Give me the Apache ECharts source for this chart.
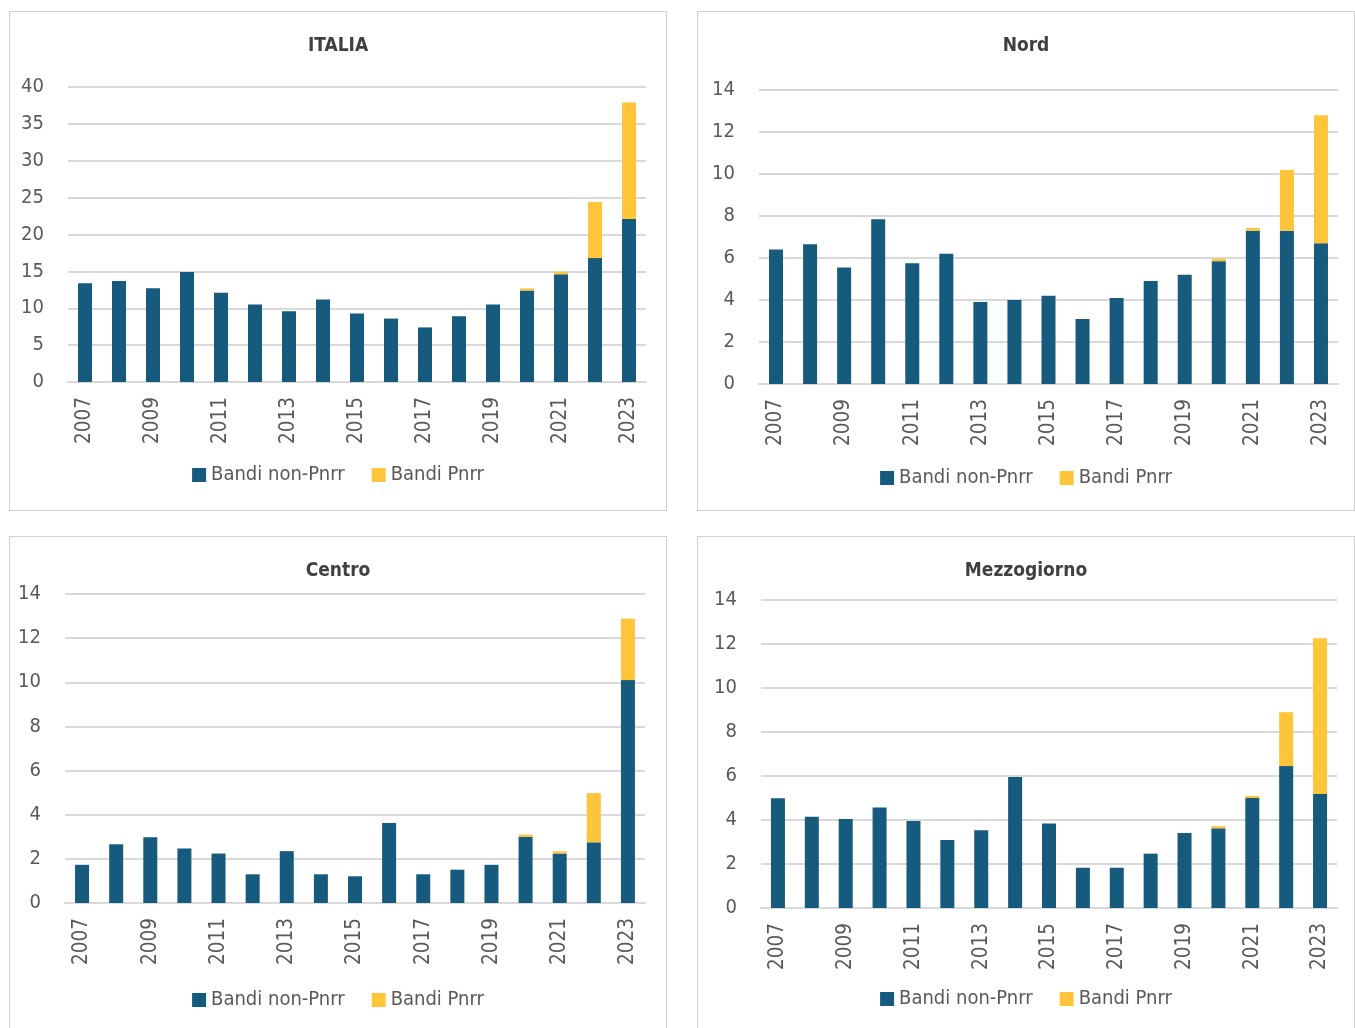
<!DOCTYPE html>
<html>
<head>
<meta charset="utf-8">
<script src="https://cdn.jsdelivr.net/npm/echarts@6/dist/echarts.min.js"></script>
<style>
  html, body { margin: 0; padding: 0; background: #ffffff; }
  body { width: 1355px; height: 1028px; position: relative; overflow: hidden; }
  .panel { position: absolute; box-sizing: border-box; border: 1px solid #d0d0d0; background: #fff; }
</style>
</head>
<body>
<div class="panel" id="p1" style="left:9px;top:11px;width:658px;height:500px;"></div>
<div class="panel" id="p2" style="left:697px;top:11px;width:658px;height:500px;"></div>
<div class="panel" id="p3" style="left:9px;top:536px;width:658px;height:500px;"></div>
<div class="panel" id="p4" style="left:697px;top:536px;width:658px;height:500px;"></div>
<script>
// Years on the category axis
const years = ['2007','2008','2009','2010','2011','2012','2013','2014','2015',
               '2016','2017','2018','2019','2020','2021','2022','2023'];

// ITALIA
const italiaNonPnrr = [13.4, 13.7, 12.7, 14.9, 12.1, 10.5, 9.6, 11.2, 9.3, 8.6, 7.4, 8.9, 10.5, 12.4, 14.6, 16.8, 22.1];
const italiaPnrr    = [0, 0, 0, 0, 0, 0, 0, 0, 0, 0, 0, 0, 0, 0.3, 0.35, 7.6, 15.8];

// Nord
const nordNonPnrr = [6.4, 6.65, 5.55, 7.85, 5.75, 6.2, 3.9, 4.0, 4.2, 3.1, 4.1, 4.9, 5.2, 5.85, 7.3, 7.3, 6.7];
const nordPnrr    = [0, 0, 0, 0, 0, 0, 0, 0, 0, 0, 0, 0, 0, 0.12, 0.13, 2.9, 6.1];

// Centro
const centroNonPnrr = [1.73, 2.66, 2.98, 2.47, 2.24, 1.3, 2.35, 1.3, 1.21, 3.62, 1.3, 1.51, 1.73, 3.0, 2.24, 2.75, 10.1];
const centroPnrr    = [0, 0, 0, 0, 0, 0, 0, 0, 0, 0, 0, 0, 0, 0.1, 0.1, 2.23, 2.78];

// Mezzogiorno
const mezzNonPnrr = [4.99, 4.15, 4.04, 4.57, 3.95, 3.09, 3.53, 5.95, 3.84, 1.83, 1.83, 2.47, 3.41, 3.62, 5.0, 6.45, 5.18];
const mezzPnrr    = [0, 0, 0, 0, 0, 0, 0, 0, 0, 0, 0, 0, 0, 0.1, 0.09, 2.45, 7.08];

// Series names shown in the legends
const seriesNames = ['Bandi non-Pnrr', 'Bandi Pnrr'];

const FONT = "'Liberation Sans Narrow', 'DejaVu Sans Condensed', 'Roboto', sans-serif";
const BLUE = '#165a7d';
const YELLOW = '#fec53a';
const TEXT = '#595959';

function buildPanel(id, title, nonPnrr, pnrr, yMax, yStep, grid, titleTop, legendTop) {
  const chart = echarts.init(document.getElementById(id), null, { renderer: 'canvas' });
  chart.setOption({
    animation: false,
    textStyle: { fontFamily: FONT },
    title: {
      text: title,
      left: 'center',
      top: titleTop,
      textStyle: { fontFamily: FONT, fontSize: 19, fontWeight: 'bold', color: '#404040' }
    },
    legend: {
      data: seriesNames,
      left: 'center',
      top: legendTop,
      itemWidth: 14,
      itemHeight: 14,
      itemGap: 27,
      icon: 'rect',
      textStyle: { fontFamily: FONT, fontSize: 20, color: TEXT }
    },
    grid: grid,
    xAxis: {
      type: 'category',
      data: years,
      axisLine: { show: true, lineStyle: { color: '#d9d9d9', width: 2 } },
      axisTick: { show: false },
      axisLabel: {
        interval: 1,
        rotate: 90,
        margin: 15,
        fontFamily: FONT,
        fontSize: 20.5,
        color: TEXT
      }
    },
    yAxis: {
      type: 'value',
      min: 0,
      max: yMax,
      interval: yStep,
      axisLine: { show: false },
      axisTick: { show: false },
      splitLine: { lineStyle: { color: '#d9d9d9', width: 2 } },
      axisLabel: { margin: 24, fontFamily: FONT, fontSize: 20, color: TEXT }
    },
    series: [
      {
        name: seriesNames[0],
        type: 'bar',
        stack: 'tot',
        barWidth: 14,
        itemStyle: { color: BLUE },
        data: nonPnrr
      },
      {
        name: seriesNames[1],
        type: 'bar',
        stack: 'tot',
        barWidth: 14,
        itemStyle: { color: YELLOW },
        data: pnrr
      }
    ]
  });
}

buildPanel('p1', 'ITALIA', italiaNonPnrr, italiaPnrr, 40, 5,
  { left: 58, top: 75, width: 578, height: 295 }, 20, 448);
buildPanel('p2', 'Nord', nordNonPnrr, nordPnrr, 14, 2,
  { left: 61, top: 78, width: 579, height: 294 }, 20, 451);
buildPanel('p3', 'Centro', centroNonPnrr, centroPnrr, 14, 2,
  { left: 55, top: 57, width: 580, height: 309 }, 20, 448);
buildPanel('p4', 'Mezzogiorno', mezzNonPnrr, mezzPnrr, 14, 2,
  { left: 63, top: 63, width: 576, height: 308 }, 20, 447);
</script>
</body>
</html>
